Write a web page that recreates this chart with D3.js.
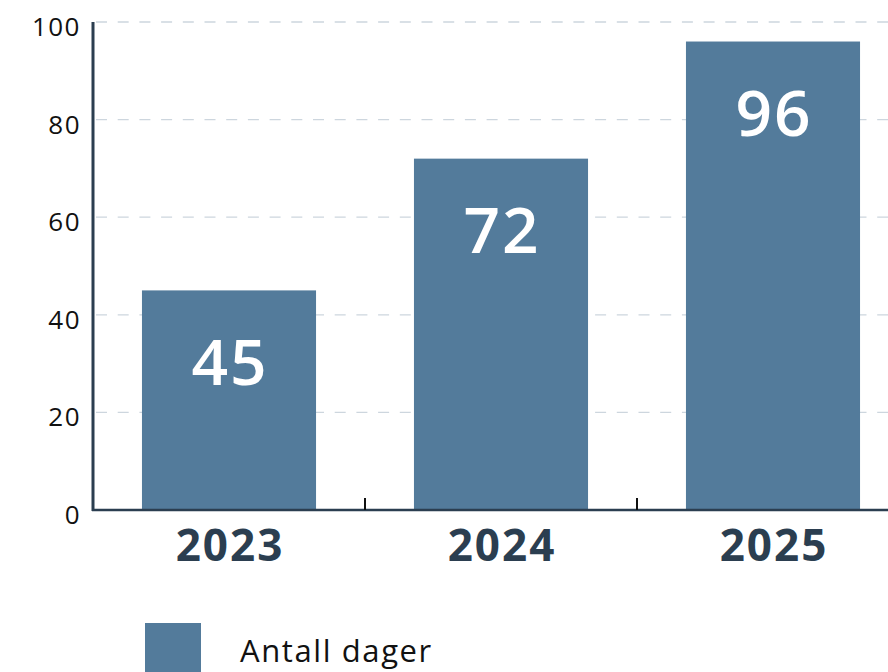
<!DOCTYPE html>
<html>
<head>
<meta charset="utf-8">
<script src="https://cdn.jsdelivr.net/npm/d3@7"></script>
<style>
  html, body { margin: 0; padding: 0; background: #fff; overflow: hidden; }
  svg { display: block; font-family: "Open Sans", "Noto Sans", sans-serif; }
</style>
</head>
<body>
<svg width="888" height="672"></svg>
<script>
const years = ["2023", "2024", "2025"];
const days = [45, 72, 96];
const yTicks = [0, 20, 40, 60, 80, 100];
const seriesName = "Antall dager";

const svg = d3.select("svg");
const barColor = "#537b9b";
const axisColor = "#2b3e50";

const x = d3.scaleBand()
    .domain(years)
    .range([93, 909])
    .paddingInner(0.36)
    .paddingOuter(0.18);

const y = d3.scaleLinear()
    .domain([0, 100])
    .range([510, 22]);

// grid
svg.append("g")
    .selectAll("line")
    .data(yTicks.filter(d => d > 0))
    .enter()
    .append("line")
    .attr("x1", 93)
    .attr("x2", 909)
    .attr("y1", d => y(d))
    .attr("y2", d => y(d))
    .attr("stroke", "#cdd6de")
    .attr("stroke-width", 1.3)
    .attr("stroke-dasharray", "11,10.7")
    .attr("stroke-dashoffset", -3);

// y tick labels
svg.append("g")
    .selectAll("text")
    .data(yTicks)
    .enter()
    .append("text")
    .attr("x", 81)
    .attr("y", d => y(d) + 14)
    .attr("text-anchor", "end")
    .attr("font-size", 26)
    .attr("letter-spacing", 1.5)
    .attr("fill", "#111")
    .text(d => d);

// bars
svg.append("g")
    .selectAll("rect")
    .data(years)
    .enter()
    .append("rect")
    .attr("x", d => x(d))
    .attr("width", x.bandwidth())
    .attr("y", (d, i) => y(days[i]))
    .attr("height", (d, i) => y(0) - y(days[i]))
    .attr("fill", barColor);

// value labels
svg.append("g")
    .selectAll("text")
    .data(years)
    .enter()
    .append("text")
    .attr("x", d => x(d) + x.bandwidth() / 2 + 1)
    .attr("y", (d, i) => y(days[i]) + 72)
    .attr("dy", "0.35em")
    .attr("text-anchor", "middle")
    .attr("font-size", 64)
    .attr("font-weight", 600)
    .attr("letter-spacing", 2)
    .attr("fill", "#fff")
    .text((d, i) => days[i]);

// axes lines
svg.append("line")
    .attr("x1", 93).attr("x2", 93)
    .attr("y1", y(100)).attr("y2", y(0) + 1)
    .attr("stroke", axisColor)
    .attr("stroke-width", 3);

svg.append("line")
    .attr("x1", 92).attr("x2", 909)
    .attr("y1", y(0)).attr("y2", y(0))
    .attr("stroke", axisColor)
    .attr("stroke-width", 2.5);

// band boundary ticks
svg.append("g")
    .selectAll("line")
    .data(years.slice(1))
    .enter()
    .append("line")
    .attr("x1", d => x(d) - x.step() * x.paddingInner() / 2)
    .attr("x2", d => x(d) - x.step() * x.paddingInner() / 2)
    .attr("y1", y(0))
    .attr("y2", y(0) - 12)
    .attr("stroke", "#111")
    .attr("stroke-width", 2);

// x labels
svg.append("g")
    .selectAll("text")
    .data(years)
    .enter()
    .append("text")
    .attr("x", d => x(d) + x.bandwidth() / 2 + 1)
    .attr("y", 546)
    .attr("dy", "0.35em")
    .attr("text-anchor", "middle")
    .attr("font-size", 44)
    .attr("font-weight", 700)
    .attr("letter-spacing", 2)
    .attr("fill", axisColor)
    .text(d => d);

// legend
const legend = svg.append("g");
legend.append("rect")
    .attr("x", 145)
    .attr("y", 623)
    .attr("width", 56)
    .attr("height", 56)
    .attr("fill", barColor);
legend.append("text")
    .attr("x", 240)
    .attr("y", 651)
    .attr("dy", "0.35em")
    .attr("font-size", 31)
    .attr("letter-spacing", 1.6)
    .attr("fill", "#111")
    .text(seriesName);
</script>
</body>
</html>
